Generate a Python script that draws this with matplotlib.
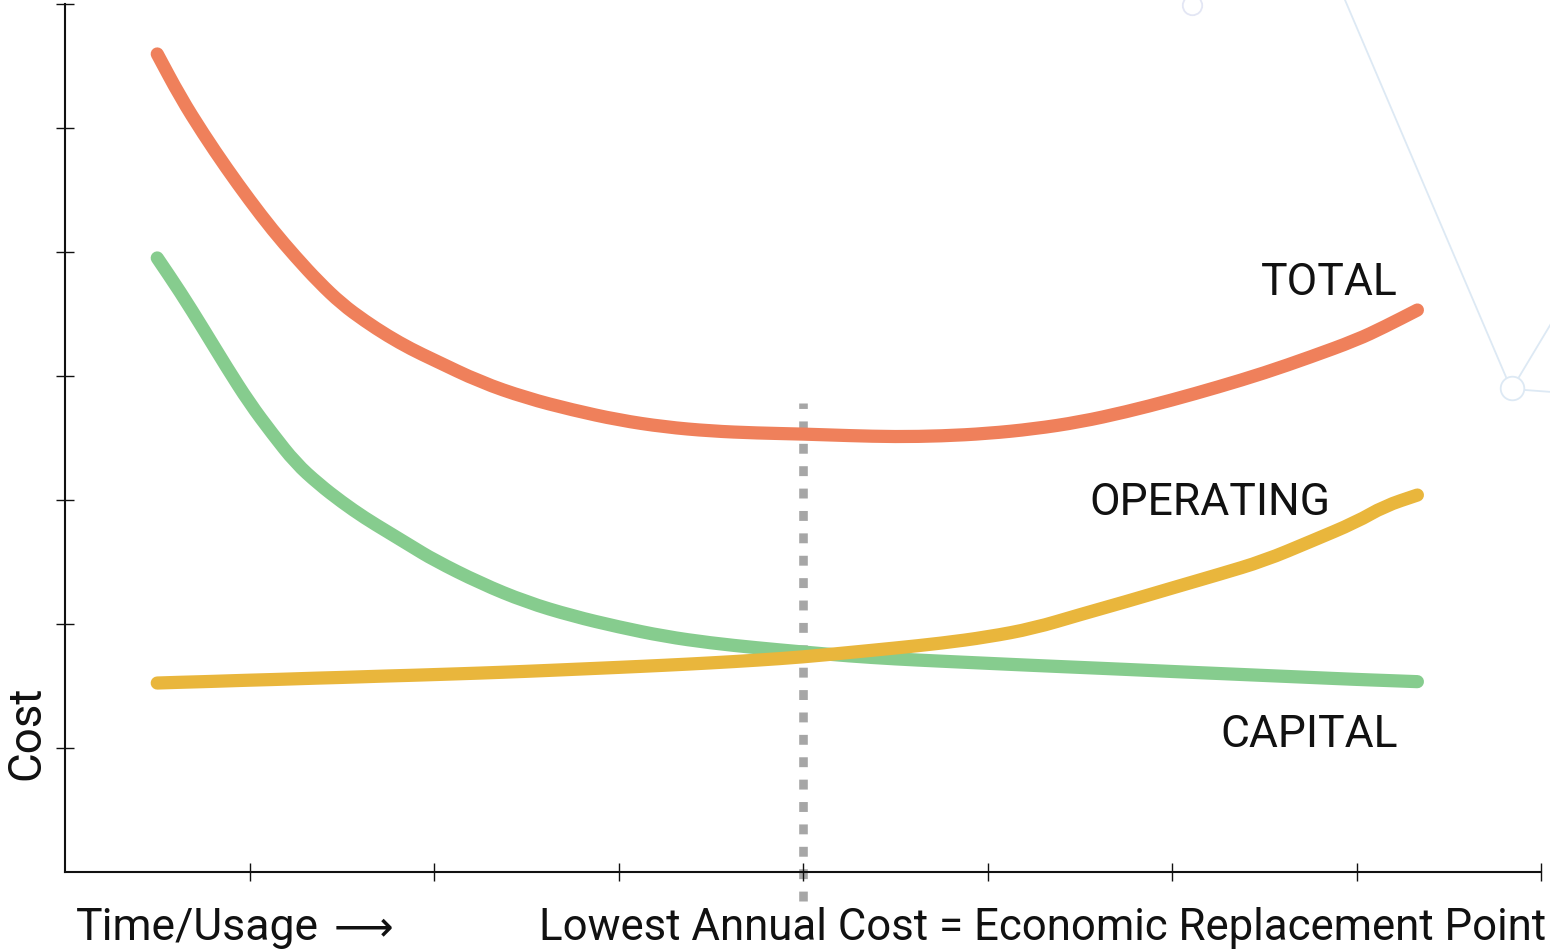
import matplotlib
matplotlib.use("Agg")
import matplotlib.pyplot as plt
from matplotlib.path import Path
from matplotlib.patches import PathPatch
from matplotlib.lines import Line2D

# ---------------------------------------------
# DATA
# ---------------------------------------------

usage = [0.5, 0.625, 0.75, 0.875, 1.0, 1.125, 1.25, 1.375, 1.5, 1.625,
         1.75, 1.875, 2.0, 2.25, 2.5, 2.75, 3.0, 3.25, 3.5, 3.75,
         4.0, 4.25, 4.5, 4.75, 5.0, 5.25, 5.5, 5.75, 6.0, 6.25,
         6.5, 6.75, 7.0, 7.15, 7.33]

total_cost = [6.597, 6.250, 5.952, 5.677, 5.419, 5.177, 4.960, 4.758, 4.581, 4.444,
              4.323, 4.218, 4.129, 3.952, 3.823, 3.726, 3.645, 3.589, 3.556, 3.540,
              3.532, 3.519, 3.510, 3.516, 3.536, 3.573, 3.629, 3.710, 3.806, 3.911,
              4.024, 4.153, 4.290, 4.395, 4.532]

capital_cost = [4.952, 4.677, 4.379, 4.073, 3.782, 3.532, 3.298, 3.129, 2.984, 2.855,
                2.742, 2.629, 2.516, 2.330, 2.177, 2.065, 1.976, 1.900, 1.847, 1.808,
                1.774, 1.742, 1.718, 1.700, 1.683, 1.666, 1.650, 1.634, 1.617, 1.601,
                1.585, 1.569, 1.553, 1.545, 1.535]

operating_cost = [1.524, 1.530, 1.535, 1.541, 1.547, 1.552, 1.558, 1.564, 1.569, 1.575,
                  1.581, 1.586, 1.592, 1.604, 1.618, 1.634, 1.650, 1.667, 1.686, 1.708,
                  1.734, 1.770, 1.806, 1.845, 1.895, 1.965, 2.075, 2.180, 2.290, 2.398,
                  2.510, 2.665, 2.822, 2.950, 3.040]

replacement_x = 4.0
replacement_span = [-0.23, 3.78]

x_ticks = [1, 2, 3, 4, 5, 6, 7, 8]
y_ticks = [1, 2, 3, 4, 5, 6, 7]


def smooth_curve(ax, xs, ys, color, z):
    # quadratic bezier through the midpoints, read points as control points
    pts = list(zip(xs, ys))
    verts = [pts[0]]
    codes = [Path.MOVETO]
    mid = ((pts[0][0] + pts[1][0]) / 2, (pts[0][1] + pts[1][1]) / 2)
    verts.append(mid)
    codes.append(Path.LINETO)
    for i in range(1, len(pts) - 1):
        nxt = ((pts[i][0] + pts[i + 1][0]) / 2, (pts[i][1] + pts[i + 1][1]) / 2)
        verts += [pts[i], nxt]
        codes += [Path.CURVE3, Path.CURVE3]
    verts.append(pts[-1])
    codes.append(Path.LINETO)
    patch = PathPatch(Path(verts, codes), fill=False, edgecolor=color,
                      lw=9.5, capstyle='round', joinstyle='round', zorder=z)
    ax.add_patch(patch)


# ---------------------------------------------
# FIGURE
# ---------------------------------------------

plt.rcParams['font.family'] = ['Roboto', 'DejaVu Sans']

W, H = 1550, 952
fig = plt.figure(figsize=(W / 100, H / 100), dpi=100)

# faint background watermark in the top right corner (pixel coords)
wm = '#DDE9F4'
px = lambda x, y: (x / W, 1 - y / H)
for (x0, y0), (x1, y1) in [((1345, 0), (1506, 377)),
                           ((1519, 377), (1552, 322)),
                           ((1525, 390), (1552, 392))]:
    (a, b), (c, d) = px(x0, y0), px(x1, y1)
    fig.add_artist(Line2D([a, c], [b, d], color=wm, lw=1.3))
for (cx, cy), ms, ec in [((1512, 388), 17, wm), ((1192, 5), 14, '#E3E6F4')]:
    a, b = px(cx, cy)
    fig.add_artist(Line2D([a], [b], marker='o', ms=ms, mfc='none',
                          mec=ec, mew=1.3, lw=0))

ax = fig.add_axes([65 / W, 80 / H, 1476 / W, 868 / H])
ax.patch.set_alpha(0)

ax.set_xlim(0, 8)
ax.set_ylim(0, 7)

# dotted replacement line (under the curves)
ax.plot([replacement_x, replacement_x], replacement_span,
        color='#A6A6A6', lw=6.2, dashes=(1.15, 1.45),
        solid_capstyle='butt', dash_capstyle='butt',
        clip_on=False, zorder=1)

smooth_curve(ax, usage, capital_cost, '#86CC8E', 2)
smooth_curve(ax, usage, operating_cost, '#E9B63C', 3)
smooth_curve(ax, usage, total_cost, '#EF805B', 4)

# curve labels
lab_kw = dict(fontsize=32, color='#111111', va='baseline', ha='right')
ax.text(7.225, 4.653, 'TOTAL', **lab_kw)
ax.text(6.856, 2.879, 'OPERATING', **lab_kw)
ax.text(7.225, 1.008, 'CAPITAL', **lab_kw)

# axes styling
for side in ['top', 'right']:
    ax.spines[side].set_visible(False)
for side in ['left', 'bottom']:
    ax.spines[side].set_linewidth(1.5)
    ax.spines[side].set_color('#111111')

ax.set_xticks(x_ticks)
ax.set_yticks(y_ticks)
ax.set_xticklabels([])
ax.set_yticklabels([])
ax.tick_params(axis='both', direction='inout', length=13, width=1.0,
               color='#111111')

# axis captions
fig.text(26 / W, 1 - 733 / H, 'Cost', rotation=90, fontsize=33,
         ha='center', va='center', color='#111111')
fig.text(76 / W, 1 - 940 / H, 'Time/Usage', fontsize=32,
         ha='left', va='baseline', color='#111111')
fig.text(393 / W, 1 - 940 / H, '\u27f6', fontsize=30,
         family=['DejaVu Sans'], ha='right', va='baseline', color='#111111')
fig.text(1546 / W, 1 - 940 / H,
         'Lowest Annual Cost = Economic Replacement Point', fontsize=31.5,
         ha='right', va='baseline', color='#111111')

fig.savefig('out.png', dpi=100)
